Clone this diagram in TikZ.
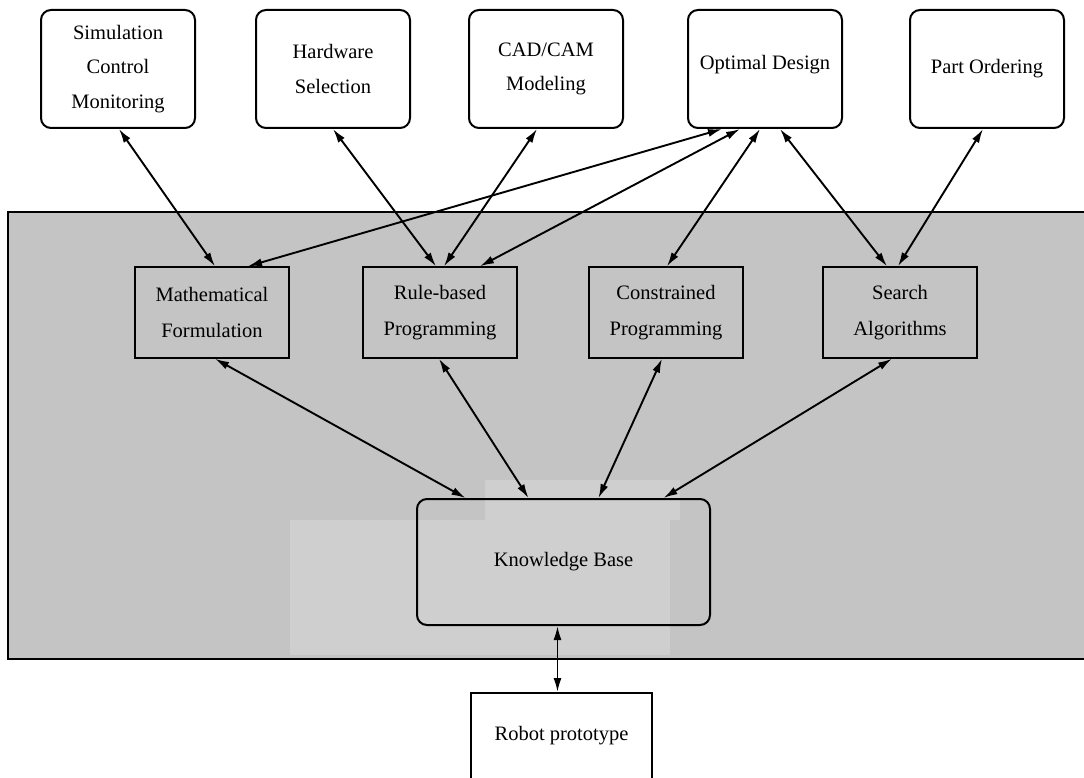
\documentclass[tikz,border=0pt]{standalone}
\usepackage{fontspec}
\setmainfont{Liberation Serif}
\usetikzlibrary{arrows.meta}
\begin{document}
\begin{tikzpicture}[x=1pt,y=-1pt,
  every node/.style={font=\fontsize{20.5}{34.5}\selectfont, align=center, inner sep=0pt},
  topbox/.style={draw, line width=2pt, rounded corners=10pt, minimum width=154pt, minimum height=118pt, fill=white},
  midbox/.style={draw, line width=1.5pt, minimum width=154pt, minimum height=91pt, font=\fontsize{20.5}{36}\selectfont},
  kbbox/.style={draw, line width=2pt, rounded corners=10pt, minimum width=293pt, minimum height=126pt},
  plainbox/.style={draw, line width=1.8pt, minimum width=181pt},
  link/.style={{Latex[length=14pt,width=8pt]}-{Latex[length=14pt,width=8pt]}, line width=1.9pt},
  panel/.style={fill=black!23, draw=black, line width=2pt},
  lighter/.style={fill=black!19}
]
\useasboundingbox (0,0) rectangle (1084,778);
\clip (0,0) rectangle (1084,778);

% shaded system panel
\draw[panel] (8,212) rectangle (1100,659);
\fill[lighter] (290,520) rectangle (670,655);
\fill[lighter] (485,480) rectangle (680,520);

% applications
\node[topbox] (sim)  at (118,69) {Simulation\\Control\\Monitoring};
\node[topbox] (hw)   at (333,69) {Hardware\\Selection};
\node[topbox] (cad)  at (546,69) {CAD/CAM\\Modeling};
\node[topbox, text depth=14pt] (opt)  at (765,69) {Optimal Design};
\node[topbox] (part) at (987,69) {Part Ordering};

% reasoning methods
\node[midbox] (math)   at (212,312.5) {Mathematical\\Formulation};
\node[midbox] (rule)   at (440,312.5) {Rule-based\\Programming};
\node[midbox] (cons)   at (666,312.5) {Constrained\\Programming};
\node[midbox] (search) at (900,312.5) {Search\\Algorithms};

% knowledge base and prototype
\node[kbbox] (kb) at (563.5,562) {Knowledge Base};
\node[plainbox, anchor=north, text height=48pt, text depth=60pt] (robot) at (561.5,692) {Robot prototype};

% links between applications and methods
\draw[link] ([xshift=1pt]sim.south)    -- ([xshift=3pt]math.north);
\draw[link] (hw.south)                 -- ([xshift=-4pt]rule.north);
\draw[link] ([xshift=-9pt]cad.south)   -- ([xshift=4pt]rule.north);
\draw[link] ([xshift=-43pt]opt.south)  -- ([xshift=36pt]math.north);
\draw[link] ([xshift=-25pt]opt.south)  -- ([xshift=40pt]rule.north);
\draw[link] ([xshift=-5pt]opt.south)   -- ([xshift=1pt]cons.north);
\draw[link] ([xshift=15pt]opt.south)   -- ([xshift=-13pt]search.north);
\draw[link] ([xshift=-4pt]part.south)  -- ([xshift=-2pt]search.north);

% links between methods and the knowledge base
\draw[link] ([xshift=3pt]math.south)   -- ([xshift=-98pt]kb.north);
\draw[link] ([xshift=-1pt]rule.south)  -- ([xshift=-35pt]kb.north);
\draw[link] ([xshift=-4pt]cons.south)  -- ([xshift=35pt]kb.north);
\draw[link] ([xshift=-8pt]search.south) -- ([xshift=100pt]kb.north);

% knowledge base to prototype
\draw[link] ([xshift=-6pt]kb.south) -- ([xshift=-4pt]robot.north);
\end{tikzpicture}
\end{document}
